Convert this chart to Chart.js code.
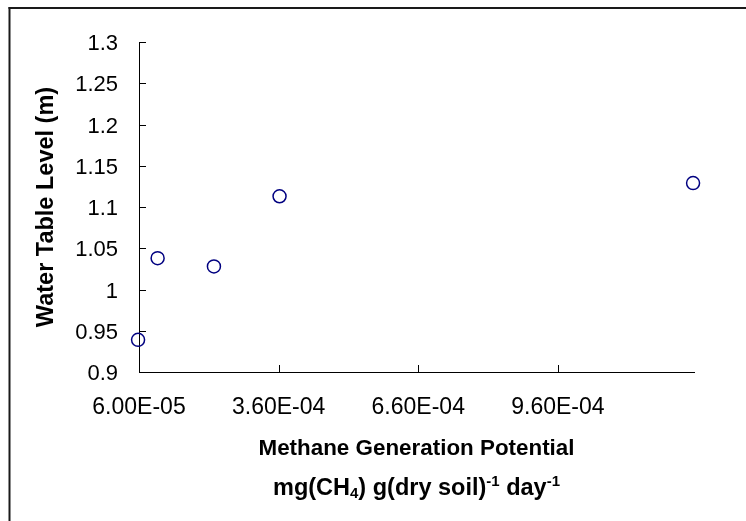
<!DOCTYPE html>
<html>
<head>
<meta charset="utf-8">
<title>Water table level vs methane generation potential</title>
<script src="https://cdn.jsdelivr.net/npm/chart.js@4.4.1/dist/chart.umd.min.js"></script>
<style>
    body { margin: 0; background: #fff; }
    #wrap { width: 746px; height: 521px; }
</style>
</head>
<body>
<div id="wrap"><canvas id="scatterChart" width="746" height="521"></canvas></div>
<script>
// Values
const methaneValues = [5.8e-5, 1.0e-4, 2.21e-4, 3.62e-4, 1.2505e-3];
const waterTableValues = [0.939, 1.038, 1.028, 1.113, 1.129];

// Axis ticks
const xTickValues = [6.0e-5, 3.6e-4, 6.6e-4, 9.6e-4];
const xTickLabels = ['6.00E-05', '3.60E-04', '6.60E-04', '9.60E-04'];
const yTickValues = [0.9, 0.95, 1, 1.05, 1.1, 1.15, 1.2, 1.25, 1.3];
const yTickLabels = ['0.9', '0.95', '1', '1.05', '1.1', '1.15', '1.2', '1.25', '1.3'];

const xTitle = 'Methane Generation Potential';
const yTitle = 'Water Table Level (m)';
// second line of the x title: [text, 'n' normal | 'sub' | 'sup']
const unitParts = [
    ['mg(CH', 'n'],
    ['4', 'sub'],
    [') g(dry soil)', 'n'],
    ['-1', 'sup'],
    [' day', 'n'],
    ['-1', 'sup']
];

const FONT = '"Liberation Sans", Arial, sans-serif';

// Outer frame (only left and top edges are visible in the picture)
const framePlugin = {
    id: 'frame',
    beforeDraw(chart) {
        const ctx = chart.ctx;
        ctx.save();
        ctx.fillStyle = '#fff';
        ctx.fillRect(0, 0, chart.width, chart.height);
        ctx.fillStyle = '#1a1a1a';
        ctx.fillRect(8.5, 7, 2, chart.height);
        ctx.fillRect(8.5, 7, chart.width, 2);
        ctx.restore();
    }
};

// Tick marks pointing into the plot area
const innerTicksPlugin = {
    id: 'innerTicks',
    afterDraw(chart) {
        const ctx = chart.ctx;
        const area = chart.chartArea;
        const len = 7;
        ctx.save();
        ctx.strokeStyle = '#000';
        ctx.lineWidth = 1;
        ctx.beginPath();
        chart.scales.x.ticks.forEach(t => {
            const px = Math.round(chart.scales.x.getPixelForValue(t.value)) + 0.5;
            ctx.moveTo(px, area.bottom);
            ctx.lineTo(px, area.bottom - len);
        });
        chart.scales.y.ticks.forEach(t => {
            const py = Math.round(chart.scales.y.getPixelForValue(t.value)) + 0.5;
            ctx.moveTo(area.left, py);
            ctx.lineTo(area.left + len, py);
        });
        ctx.stroke();
        ctx.restore();
    }
};

// Units line under the x title, with subscript and superscripts
const unitLinePlugin = {
    id: 'unitLine',
    afterDraw(chart) {
        const ctx = chart.ctx;
        const area = chart.chartArea;
        const baseline = 495;
        const fonts = {
            n: 'bold 23.5px ' + FONT,
            sub: 'bold 15px ' + FONT,
            sup: 'bold 15px ' + FONT
        };
        const shift = { n: 0, sub: 3, sup: -9 };
        ctx.save();
        ctx.fillStyle = '#000';
        ctx.textBaseline = 'alphabetic';
        ctx.textAlign = 'left';
        let total = 0;
        unitParts.forEach(([txt, kind]) => {
            ctx.font = fonts[kind];
            total += ctx.measureText(txt).width;
        });
        let x = (area.left + area.right) / 2 - total / 2;
        unitParts.forEach(([txt, kind]) => {
            ctx.font = fonts[kind];
            ctx.fillText(txt, x, baseline + shift[kind]);
            x += ctx.measureText(txt).width;
        });
        ctx.restore();
    }
};

function initializeChart() {
    const ctx = document.getElementById('scatterChart').getContext('2d');

    const points = methaneValues.map((v, i) => ({ x: v, y: waterTableValues[i] }));

    return new Chart(ctx, {
        type: 'scatter',
        data: {
            datasets: [{
                label: 'Water table level',
                data: points,
                borderColor: '#000080',
                backgroundColor: 'rgba(255, 255, 255, 0)',
                borderWidth: 1.5,
                pointRadius: 6.5,
                pointHoverRadius: 6.5,
                clip: false
            }]
        },
        options: {
            responsive: false,
            animation: false,
            devicePixelRatio: 1,
            events: [],
            layout: {
                padding: { left: 0, top: 42, right: 52, bottom: 0 }
            },
            plugins: {
                legend: { display: false },
                tooltip: { enabled: false }
            },
            scales: {
                x: {
                    type: 'linear',
                    min: 6.0e-5,
                    max: 1.2525e-3,
                    afterBuildTicks: scale => {
                        scale.ticks = xTickValues.map(v => ({ value: v }));
                    },
                    afterFit: scale => { scale.height = 149; },
                    grid: { display: false, drawTicks: false },
                    border: { display: true, color: '#000', width: 1 },
                    ticks: {
                        padding: 22,
                        maxRotation: 0,
                        autoSkip: false,
                        color: '#000',
                        font: { family: FONT, size: 23 },
                        callback: (value, index) => xTickLabels[index]
                    },
                    title: {
                        display: true,
                        text: xTitle,
                        color: '#000',
                        font: { family: FONT, size: 22.4, weight: 'bold' },
                        padding: { top: 0, bottom: 59 }
                    }
                },
                y: {
                    type: 'linear',
                    min: 0.9,
                    max: 1.3,
                    afterBuildTicks: scale => {
                        scale.ticks = yTickValues.map(v => ({ value: v }));
                    },
                    afterFit: scale => { scale.width = 139; },
                    grid: { display: false, drawTicks: false },
                    border: { display: true, color: '#000', width: 1 },
                    ticks: {
                        padding: 21,
                        labelOffset: 2,
                        color: '#000',
                        font: { family: FONT, size: 22 },
                        callback: (value, index) => yTickLabels[index]
                    },
                    title: {
                        display: true,
                        text: yTitle,
                        color: '#000',
                        font: { family: FONT, size: 23.5, weight: 'bold' },
                        padding: { top: 32, bottom: 0 }
                    }
                }
            }
        },
        plugins: [framePlugin, innerTicksPlugin, unitLinePlugin]
    });
}

document.addEventListener('DOMContentLoaded', function () {
    initializeChart();
});
</script>
</body>
</html>
